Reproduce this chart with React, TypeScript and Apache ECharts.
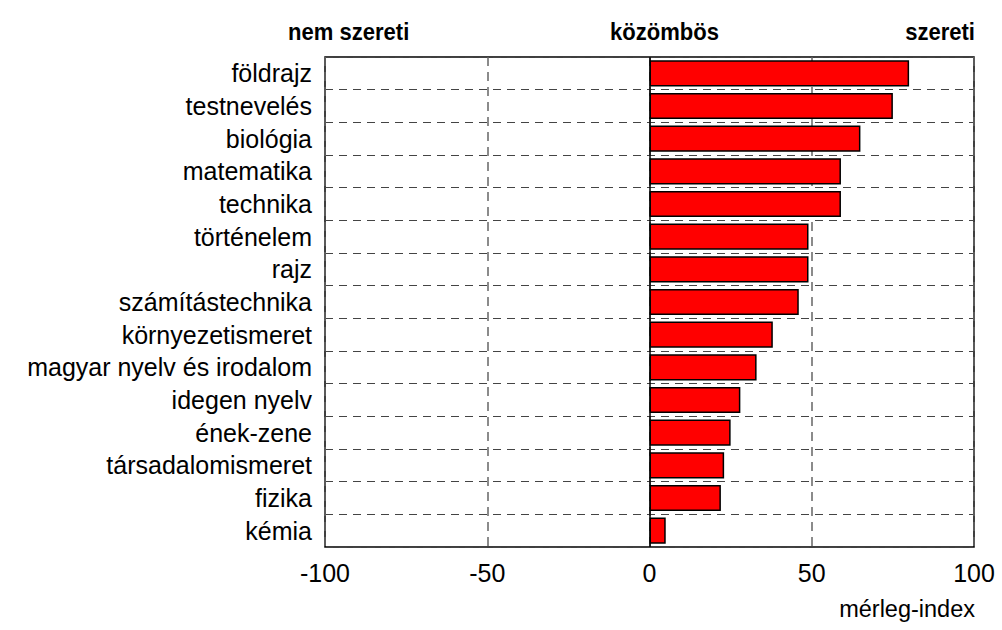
import React, { useEffect, useRef } from "react";
import * as echarts from "echarts";

const categories = [
  "földrajz",
  "testnevelés",
  "biológia",
  "matematika",
  "technika",
  "történelem",
  "rajz",
  "számítástechnika",
  "környezetismeret",
  "magyar nyelv és irodalom",
  "idegen nyelv",
  "ének-zene",
  "társadalomismeret",
  "fizika",
  "kémia",
];
const values = [80, 75, 65, 59, 59, 49, 49, 46, 38, 33, 28, 25, 23, 22, 5];
const headerLabels = ["nem szereti", "közömbös", "szereti"];
const axisName = "mérleg-index";

const FONT = "Liberation Sans, Arial, sans-serif";

export default function App() {
  const ref = useRef<HTMLDivElement>(null);
  useEffect(() => {
    if (!ref.current) return;
    const chart = echarts.init(ref.current, null, { renderer: "svg" });
    const titleStyle = (text: string, align: string) => ({
      text,
      fontSize: 24.5,
      fontWeight: "bold",
      fill: "#000",
      fontFamily: FONT,
      textAlign: align,
      textVerticalAlign: "middle",
    });
    chart.setOption({
      animation: false,
      backgroundColor: "#ffffff",
      textStyle: { fontFamily: FONT },
      grid: {
        left: 325,
        top: 57,
        width: 649,
        height: 490,
        show: true,
        borderColor: "#000",
        borderWidth: 1.5,
        backgroundColor: "transparent",
      },
      xAxis: {
        type: "value",
        min: -100,
        max: 100,
        interval: 50,
        axisLine: { show: false },
        axisTick: { show: false },
        axisLabel: { fontSize: 25, color: "#000", margin: 13, fontFamily: FONT },
        splitLine: { show: true, lineStyle: { color: "#666", type: [9, 6], width: 1.5 } },
      },
      yAxis: {
        type: "category",
        data: categories,
        inverse: true,
        axisLine: { show: false },
        axisTick: { show: false },
        axisLabel: { fontSize: 25, color: "#000", margin: 13, fontFamily: FONT },
        splitLine: { show: true, lineStyle: { color: "#444", type: [8, 6], width: 1.2 } },
      },
      graphic: [
        {
          type: "text",
          x: 288,
          y: 32,
          scaleX: 0.9,
          style: titleStyle(headerLabels[0], "left"),
        },
        {
          type: "text",
          x: 610,
          y: 32,
          scaleX: 0.9,
          style: titleStyle(headerLabels[1], "left"),
        },
        {
          type: "text",
          x: 975,
          y: 32,
          scaleX: 0.9,
          style: titleStyle(headerLabels[2], "right"),
        },
        {
          type: "text",
          right: 27,
          top: 597,
          style: { text: axisName, fontSize: 23.5, fill: "#000", fontFamily: FONT },
        },
      ],
      series: [
        {
          type: "bar",
          data: values,
          barCategoryGap: "20%",
          itemStyle: { color: "#ff0000", borderColor: "#000", borderWidth: 1.5 },
          markLine: {
            silent: true,
            symbol: "none",
            label: { show: false },
            lineStyle: { color: "#000", type: "solid", width: 1.5 },
            data: [{ xAxis: 0 }],
          },
        },
      ],
    });
    return () => chart.dispose();
  }, []);
  return (
    <div
      ref={ref}
      style={{ position: "absolute", left: 0, top: 0, width: 1002, height: 630 }}
    />
  );
}
